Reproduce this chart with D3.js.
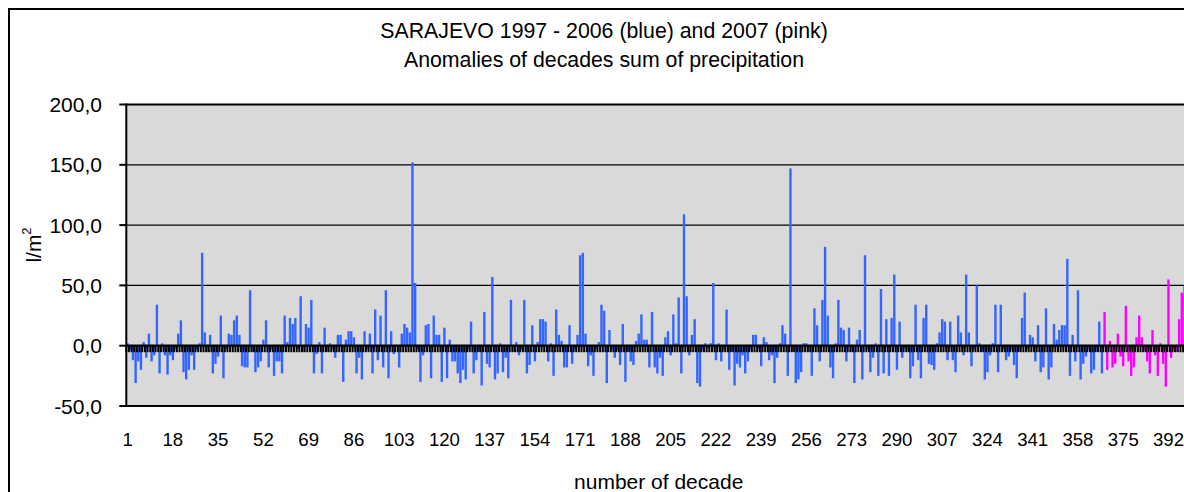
<!DOCTYPE html>
<html><head><meta charset="utf-8">
<script src="https://cdn.jsdelivr.net/npm/d3@7"></script>
<style>
body{margin:0;background:#fff;}
svg{display:block;font-family:"Liberation Sans",Arial,sans-serif;}
</style>
</head><body>
<svg id="chart" width="1184" height="492"></svg>
<script>
const titleLines = ["SARAJEVO 1997 - 2006 (blue) and 2007 (pink)", "Anomalies of decades sum of precipitation"];
const xAxisTitle = "number of decade";
const yTicks = [-50, 0, 50, 100, 150, 200];
const xTickLabels = [1, 18, 35, 52, 69, 86, 103, 120, 137, 154, 171, 188, 205, 222, 239, 256, 273, 290, 307, 324, 341, 358, 375, 392];
const decadeCount = 400;

// 1997 - 2006 (blue), decades 1..367
const blueStart = 1;
const blueValues = [
  2, -4, -12, -31, -13, -20, 3, -10, 10, -13,
  -8, 34, -23, 2, -8, -24, -8, -12, -3, 10,
  21, -22, -28, -20, -8, -20, -3, 2, 77, 11,
  -5, 9, -23, -15, -9, 25, -27, -3, 10, 9,
  21, 25, 9, -17, -18, -18, 46, -5, -22, -18,
  -13, 5, 21, -18, -3, -25, -13, -13, -23, 25,
  3, 23, 18, 23, -3, 41, -5, 18, 15, 38,
  -23, -7, 3, -23, 15, -5, 2, -3, -10, 9,
  9, -30, 5, 12, 12, 7, -23, -10, -28, 12,
  -3, 10, -23, 30, -12, 25, -18, 46, -27, 12,
  -7, -1, -18, 10, 18, 15, 11, 152, 52, -3,
  -30, -8, 17, 18, -27, 25, 9, 9, -30, 15,
  -27, 5, -13, -13, -23, -31, -20, -28, -3, 20,
  -23, -12, -5, -33, 28, -15, -18, 57, -28, -23,
  2, -22, -10, -27, 38, -5, 3, -8, -3, 38,
  -23, -16, 17, -13, 3, 22, 22, 20, -13, 2,
  -25, 30, 9, 4, -18, -18, 17, -15, -3, 9,
  75, 77, 10, -17, -8, -25, -3, 3, 34, 29,
  -31, 13, -3, -10, -4, -16, 18, -30, -5, -13,
  -16, 4, 10, 26, 5, 5, -18, 28, -18, -23,
  -10, -25, 7, 12, -8, 26, 2, 40, -23, 109,
  41, -8, 9, 22, -31, -34, -3, 2, -2, 2,
  52, -12, 2, -13, -3, 30, -20, -5, -33, -15,
  -18, -8, -23, -13, -3, 9, 9, -3, -17, 7,
  3, -12, -8, -31, -10, 2, 17, 10, -25, 147,
  -5, -31, -28, -22, 2, 2, -5, -25, 31, 17,
  -13, 38, 82, 25, -18, -27, 2, 38, 15, 13,
  -13, 15, -5, -31, 5, 13, -28, 75, -3, -22,
  -10, 2, -25, 47, -23, 22, -25, 23, 59, -20,
  20, -10, -2, -5, -27, -17, 34, -12, -27, 23,
  34, -15, -16, -20, 2, 11, 22, 20, -12, 20,
  -12, -22, 25, 11, -8, 59, 11, -17, -3, 50,
  2, -5, -28, -22, -8, 2, 34, -22, 34, -3,
  -12, -9, -3, -16, -27, -5, 23, 44, -3, 9,
  7, -13, 17, -22, -18, 31, -28, -18, 18, 5,
  13, 17, 17, 72, -25, 9, -13, 46, -28, -15,
  -9, -3, -23, -20, -5, 20, -23
];

// 2007 (pink), decades 368..398
const pinkStart = 368;
const pinkValues = [
  28, -20, 4, -18, -15, 10, -9, -17, 33, -13,
  -25, -18, 7, 25, 7, -5, -13, -23, 13, -8,
  -25, 2, -15, -34, 55, -10, -3, -5, 22, 44, 50
];

const blueColor = "#3366ff";
const pinkColor = "#ff00ff";

const svg = d3.select("#chart");

// chart frame
svg.append("rect").attr("x", 9).attr("y", 9).attr("width", 1190).attr("height", 500)
  .attr("fill", "#fff").attr("stroke", "#000").attr("stroke-width", 2);

const plotLeft = 126.3, step = 2.662;
const plotRight = plotLeft + decadeCount * step;
const plotTop = 104.5, plotBottom = 406;

const categories = d3.range(1, decadeCount + 1);
const x = d3.scaleBand().domain(categories).range([plotLeft, plotRight]).paddingInner(0.1).paddingOuter(0.05);
const y = d3.scaleLinear().domain([-50, 200]).range([plotBottom, plotTop]);

const plot = svg.append("g");
plot.append("rect").attr("x", plotLeft).attr("y", plotTop).attr("width", plotRight - plotLeft).attr("height", plotBottom - plotTop)
  .attr("fill", "#d9d9d9");

// gridlines
plot.selectAll("line.grid").data(yTicks.filter(v => v !== -50 && v !== 200)).enter().append("line")
  .attr("class", "grid")
  .attr("x1", plotLeft).attr("x2", plotRight)
  .attr("y1", d => y(d)).attr("y2", d => y(d))
  .attr("stroke", "#000").attr("stroke-width", 1.3);

// plot border top & bottom
[200, -50].forEach(v => {
  plot.append("line").attr("x1", plotLeft).attr("x2", plotRight).attr("y1", y(v)).attr("y2", y(v))
    .attr("stroke", "#000").attr("stroke-width", 2);
});

const blueData = blueValues.map((v, i) => ({c: blueStart + i, v, color: blueColor}));
const pinkData = pinkValues.map((v, i) => ({c: pinkStart + i, v, color: pinkColor}));
const allData = blueData.concat(pinkData);

plot.selectAll("rect.bar").data(allData).enter().append("rect")
  .attr("class", "bar")
  .attr("x", d => x(d.c))
  .attr("width", x.bandwidth())
  .attr("y", d => Math.min(y(d.v), y(0)))
  .attr("height", d => Math.abs(y(d.v) - y(0)))
  .attr("fill", d => d.color);

// category axis at zero, with tick marks between categories
const y0 = y(0);
plot.append("line").attr("x1", plotLeft).attr("x2", plotRight).attr("y1", y0).attr("y2", y0)
  .attr("stroke", "#000").attr("stroke-width", 2.2);
const boundaries = categories.map(c => x(c) + x.bandwidth() / 2 - x.step() / 2);
plot.selectAll("line.ctick").data(boundaries).enter().append("line")
  .attr("class", "ctick")
  .attr("x1", d => d).attr("x2", d => d)
  .attr("y1", y0).attr("y2", y0 + 6.5)
  .attr("stroke", "#000").attr("stroke-width", 2);

// y axis
const yAxisG = svg.append("g");
yAxisG.append("line").attr("x1", plotLeft).attr("x2", plotLeft).attr("y1", plotTop - 1).attr("y2", plotBottom + 1)
  .attr("stroke", "#000").attr("stroke-width", 2);
const fmt = d3.formatLocale({decimal: ",", thousands: ".", grouping: [3], currency: ["", ""], minus: "-"}).format(".1f");
yAxisG.selectAll("line.ytick").data(yTicks).enter().append("line")
  .attr("x1", plotLeft - 7).attr("x2", plotLeft)
  .attr("y1", d => y(d)).attr("y2", d => y(d))
  .attr("stroke", "#000").attr("stroke-width", 2);
yAxisG.selectAll("text.ylab").data(yTicks).enter().append("text")
  .attr("x", 102).attr("y", d => y(d))
  .attr("text-anchor", "end").attr("dominant-baseline", "central")
  .attr("font-size", 21).attr("fill", "#000")
  .text(d => fmt(d));

// x labels
svg.selectAll("text.xlab").data(xTickLabels).enter().append("text")
  .attr("x", d => x(d) + x.bandwidth() / 2).attr("y", 439)
  .attr("text-anchor", "middle").attr("dominant-baseline", "central")
  .attr("font-size", 18.6).attr("fill", "#000")
  .text(d => d);

// titles
svg.selectAll("text.title").data(titleLines).enter().append("text")
  .attr("x", 604).attr("y", (d, i) => 31 + i * 29)
  .attr("text-anchor", "middle").attr("dominant-baseline", "central")
  .attr("font-size", 21.3).attr("fill", "#000")
  .text(d => d);

svg.append("text").attr("x", (plotLeft + plotRight) / 2).attr("y", 481)
  .attr("text-anchor", "middle").attr("dominant-baseline", "central")
  .attr("font-size", 21).attr("fill", "#000").text(xAxisTitle);

const yt = svg.append("text").attr("transform", "translate(33,245) rotate(-90)")
  .attr("text-anchor", "middle").attr("dominant-baseline", "central")
  .attr("font-size", 21).attr("fill", "#000");
yt.append("tspan").text("l/m");
yt.append("tspan").attr("font-size", 13).attr("dy", -7).text("2");
</script>
</body></html>
